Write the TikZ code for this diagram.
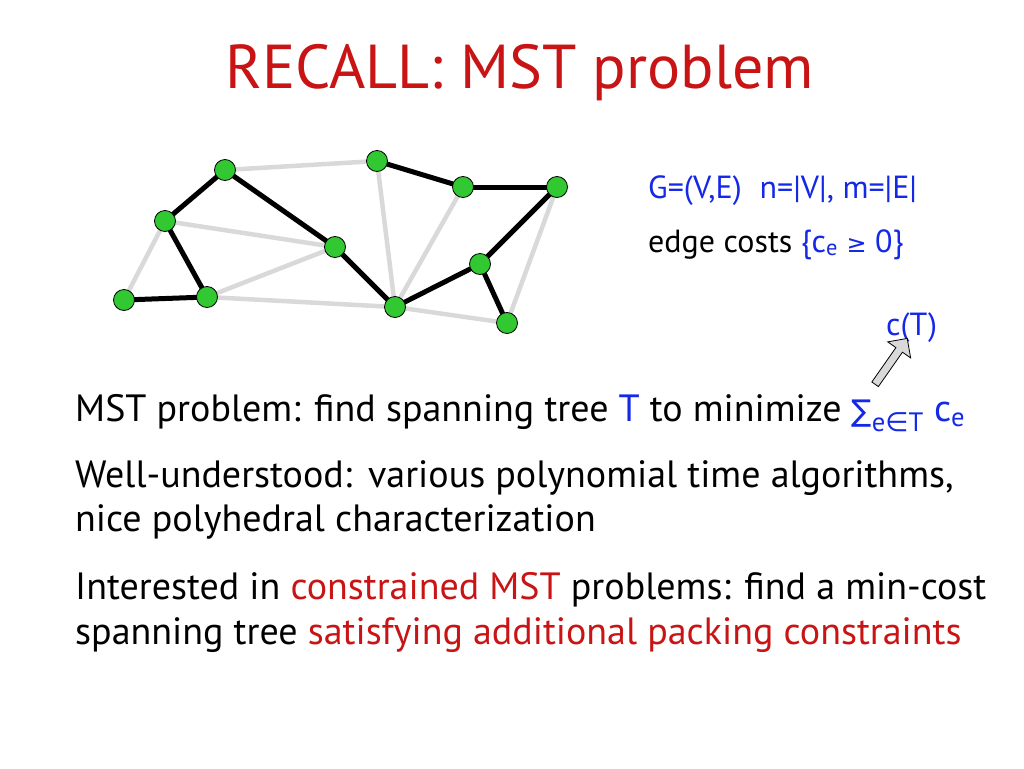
\documentclass[tikz,border=0pt]{standalone}
\usepackage{fontspec}
\setmainfont{PT Sans}
\newfontfamily\djfont{DejaVu Sans}
\usetikzlibrary{shapes.arrows}
\definecolor{tred}{RGB}{200,20,20}
\definecolor{tblue}{RGB}{20,40,230}
\definecolor{vgreen}{RGB}{50,200,50}
\begin{document}
\begin{tikzpicture}[x=1pt,y=-1pt,
  v/.style={circle,draw=black,fill=vgreen,minimum size=21pt,inner sep=0pt,line width=0.8pt},
  te/.style={line width=5pt,black},
  ge/.style={line width=4.5pt,black!15},
  txt/.style={anchor=base west,inner sep=0pt,font=\fontsize{38}{44}\selectfont}]
\useasboundingbox (0,0) rectangle (1024,768);
\node[anchor=base,inner sep=0pt,text=tred,font=\fontsize{62}{70}\selectfont] (title) at (520,88) {RECALL: MST problem};
\coordinate (A) at (225,170); \coordinate (B) at (377,161); \coordinate (C) at (463,187);
\coordinate (D) at (557,187); \coordinate (E) at (165,221); \coordinate (F) at (335,247);
\coordinate (G) at (480,264); \coordinate (H) at (124,300); \coordinate (I) at (207,297);
\coordinate (J) at (395,307); \coordinate (K) at (507,323);
\foreach \a/\b in {A/B,E/F,E/H,F/I,I/J,B/J,C/J,J/K,D/K} \draw[ge] (\a)--(\b);
\foreach \a/\b in {A/E,A/F,B/C,C/D,E/I,H/I,F/J,J/G,G/D,G/K} \draw[te] (\a)--(\b);
\foreach \n in {A,B,C,D,E,F,G,H,I,J,K} \node[v] (n\n) at (\n) {};
\node[txt,text=tblue,font=\fontsize{32}{36}\selectfont] (g) at (648,198) {G=(V,E)\hspace{18pt}n=|V|, m=|E|};
\node[txt,font=\fontsize{32}{36}\selectfont] (ec) at (648,252) {edge costs \textcolor{tblue}{\{c\textsubscript{e} {\djfont\fontsize{24}{28}\selectfont ≥} 0\}}};
\node[txt,text=tblue,font=\fontsize{32}{36}\selectfont] (ct) at (886,335) {c(T)};
\node[single arrow,draw=black,fill=black!15,minimum height=56pt,minimum width=28pt,single arrow head extend=6pt,inner sep=2pt,rotate=55,line width=0.8pt] (arr) at (890,363) {};
\node[txt] (l1) at (75,421) {MST problem: find spanning tree \textcolor{tblue}{T} to minimize \textcolor{tblue}{{\djfont\fontsize{30}{34}\selectfont∑}\textsubscript{e{\djfont∈}T} c\textsubscript{e}}};
\node[txt] (l2) at (75,487) {Well-understood:\hspace{16pt}various polynomial time algorithms,};
\node[txt] (l3) at (75,531) {nice polyhedral characterization};
\node[txt] (l4) at (75,599) {Interested in \textcolor{tred}{constrained MST} problems: find a min-cost};
\node[txt] (l5) at (75,644) {spanning tree \textcolor{tred}{satisfying additional packing constraints}};
\end{tikzpicture}
\end{document}
